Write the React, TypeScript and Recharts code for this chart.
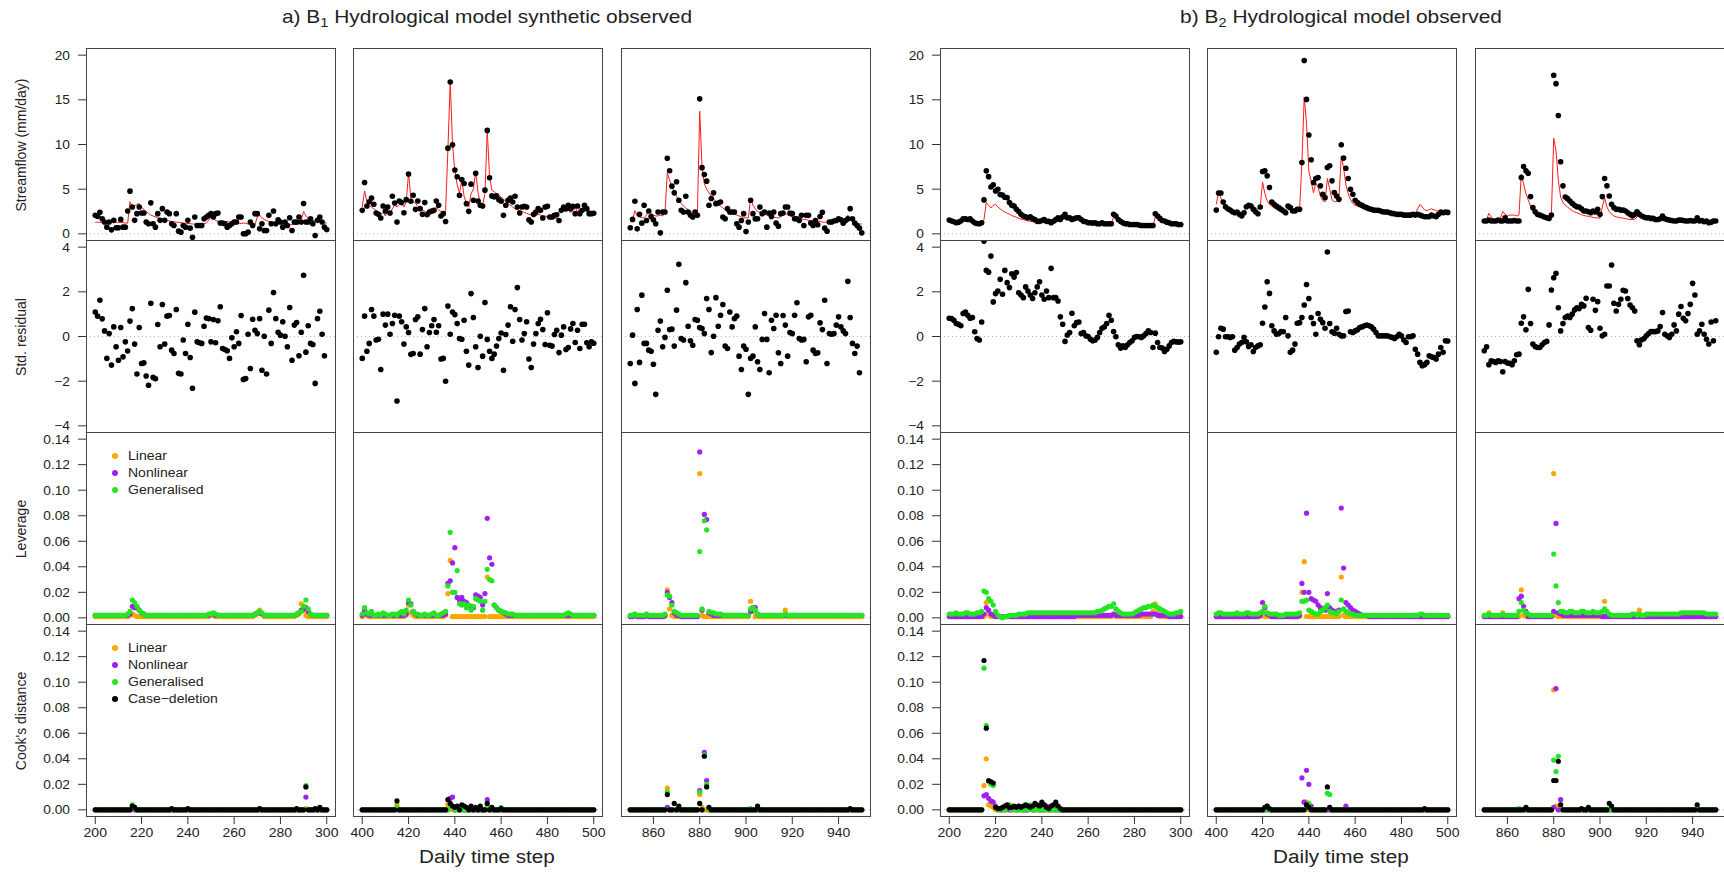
import React from "react";
import {
  ComposedChart,
  Scatter,
  Line,
  XAxis,
  YAxis,
  ReferenceLine,
  Legend,
} from "recharts";

// ---------- data ----------
const startDays = [200, 400, 850];
const xTickLabels = [
  [200, 220, 240, 260, 280, 300],
  [400, 420, 440, 460, 480, 500],
  [860, 880, 900, 920, 940],
];
const flowTicks = [0, 5, 10, 15, 20];
const residTicks = [-4, -2, 0, 2, 4];
const infTicks = [0, 0.02, 0.04, 0.06, 0.08, 0.1, 0.12, 0.14];

// a) B1 synthetic, streamflow (mm/day)
const obsA1 = [
  2.07, 1.96, 2.41, 1.69, 1.32, 0.75, 1.32, 0.45, 1.51, 0.68,
  0.68, 1.62, 0.75, 0.75, 2.56, 4.78, 3.01, 1.51, 2.26, 3.01,
  2.34, 2.34, 1.32, 1.13, 3.47, 1.13, 0.75, 2.26, 1.51, 2.82,
  1.51, 2.45, 2.26, 1.13, 0.94, 2.26, 0.3, 0.19, 0.94, 0.75,
  1.51, 0.64, -0.38, 1.88, 0.94, 0.94, 0.94, 1.69, 1.88, 2.07,
  2.26, 1.88, 2.26, 2.34, 1.21, 1.21, 1.13, 0.75, 0.94, 1.13,
  1.32, 1.32, 1.88, 1.88, 0.0, 0.0, 0.19, 1.32, 0.94, 2.26,
  2.26, 0.56, 1.13, 0.38, 0.38, 2.07, 1.13, 2.56, 1.13, 1.58,
  1.32, 0.75, 1.32, 0.94, 1.81, 0.38, 1.32, 1.32, 1.88, 1.32,
  3.39, 1.32, 1.32, 1.69, 1.13, -0.19, 1.51, 1.88, 1.32, 0.75,
  0.49,
];
const simA1 = [
  1.3, 1.3, 1.3, 1.25, 1.3, 1.3, 1.3, 1.3, 1.25, 1.3,
  1.3, 1.3, 1.25, 1.2, 1.2, 3.6, 3.0, 3.1, 3.3, 3.4,
  3.0, 2.7, 2.5, 2.3, 2.1, 2.0, 1.9, 1.8, 1.7, 1.6,
  1.55, 1.5, 1.45, 1.4, 1.35, 1.3, 1.3, 1.25, 1.2, 1.2,
  1.15, 1.15, 1.1, 1.1, 1.1, 1.1, 1.1, 1.15, 1.2, 1.5,
  2.0, 1.7, 1.5, 1.4, 1.3, 1.35, 1.3, 1.4, 1.3, 1.3,
  1.2, 1.25, 1.2, 1.15, 1.2, 1.2, 1.1, 1.05, 1.0, 1.0,
  1.9, 2.1, 1.8, 1.6, 1.5, 1.4, 1.35, 1.3, 1.25, 1.2,
  1.15, 1.1, 1.05, 1.0, 1.0, 1.05, 1.1, 1.05, 1.1, 1.6,
  2.5, 2.0, 1.7, 1.6, 1.5, 1.45, 1.4, 1.35, 1.3, 1.25,
  1.2,
];
const obsA2 = [
  2.63, 5.75, 3.12, 3.6, 4.02, 3.31, 2.33, 2.18, 1.77, 3.12,
  2.56, 3.01, 2.33, 4.21, 3.46, 1.32, 3.68, 3.5, 2.37, 3.83,
  6.69, 3.65, 4.32, 2.74, 3.68, 2.82, 2.18, 3.5, 2.14, 2.44,
  2.56, 2.63, 3.68, 3.2, 1.99, 2.26, 1.39, 9.59, 16.99, 9.96,
  7.14, 6.39, 4.32, 6.09, 5.64, 3.38, 2.52, 5.56, 3.76, 6.77,
  3.68, 3.2, 3.12, 4.89, 11.58, 6.28, 4.25, 4.14, 4.25, 3.83,
  3.65, 2.07, 3.2, 3.76, 4.02, 3.57, 4.21, 3.01, 2.33, 3.01,
  3.08, 3.01, 1.58, 1.32, 2.18, 2.44, 2.82, 2.63, 1.77, 3.01,
  3.08, 1.88, 1.88, 2.07, 2.14, 1.5, 2.63, 3.01, 2.82, 3.2,
  2.82, 3.08, 2.26, 3.12, 2.26, 2.63, 3.2, 2.82, 2.26, 2.26,
  2.3,
];
const simA2 = [
  3.0, 4.8, 3.6, 3.2, 3.0, 2.8, 2.6, 2.4, 2.2, 2.4,
  2.0, 2.6, 2.3, 2.8, 3.2, 3.0, 3.3, 3.4, 3.0, 3.6,
  6.8, 4.0, 3.6, 3.4, 3.1, 2.9, 2.7, 2.5, 2.4, 2.3,
  2.4, 2.3, 3.0, 2.7, 2.5, 2.4, 2.5, 9.5, 17.0, 10.0,
  7.0, 5.5, 4.6, 6.0, 4.2, 3.4, 3.0, 4.5, 5.0, 7.0,
  4.6, 3.5, 3.2, 4.5, 11.6, 6.4, 4.9, 4.7, 4.5, 4.3,
  4.1, 3.9, 3.6, 3.4, 3.2, 3.0, 2.8, 2.7, 2.6, 2.5,
  2.4, 2.3, 2.2, 2.1, 2.0, 2.0, 2.2, 2.1, 2.0, 2.0,
  1.9, 1.8, 1.8, 1.7, 1.7, 2.4, 2.8, 2.6, 2.5, 2.7,
  2.4, 2.6, 2.9, 2.5, 2.8, 2.6, 2.9, 2.5, 2.7, 2.4,
  2.3,
];
const obsA3 = [
  0.68, 1.62, 3.65, 0.56, 2.18, 1.2, 3.2, 1.5, 2.56, 1.95,
  1.58, 1.13, 2.44, 0.11, 2.44, 2.44, 8.46, 7.07, 5.34, 4.59,
  5.83, 3.76, 2.63, 2.44, 4.21, 2.44, 2.07, 1.88, 2.44, 2.07,
  15.11, 7.41, 6.65, 5.9, 3.2, 3.95, 4.59, 3.38, 3.46, 3.57,
  1.88, 1.69, 2.82, 2.44, 2.44, 2.44, 1.13, 0.75, 1.5, 2.26,
  0.26, 1.32, 3.76, 2.26, 1.69, 1.69, 3.01, 2.26, 2.44, 0.75,
  2.33, 1.95, 2.44, 1.2, 0.86, 2.26, 2.33, 3.01, 3.01, 2.33,
  2.26, 1.69, 1.69, 1.5, 2.07, 0.94, 2.07, 2.07, 1.2, 0.94,
  1.5, 1.02, 1.95, 2.41, 0.64, 0.3, 1.32, 1.32, 1.43, 1.5,
  1.69, 1.58, 1.2, 1.5, 1.69, 2.82, 1.69, 1.2, 0.94, 0.64,
  0.11,
];
const simA3 = [
  1.3, 1.6, 2.6, 2.0, 1.9, 1.8, 1.8, 2.1, 2.8, 2.3,
  2.1, 2.0, 2.0, 2.1, 2.0, 2.4, 6.8, 6.0, 5.3, 4.7,
  4.2, 3.8, 3.4, 3.1, 2.9, 2.7, 2.5, 2.4, 2.3, 2.2,
  13.7, 7.5, 5.6, 5.0, 4.6, 4.2, 3.9, 3.6, 3.4, 3.1,
  2.9, 2.7, 2.5, 2.4, 2.3, 2.2, 2.1, 2.0, 1.9, 1.8,
  1.8, 1.8, 4.0, 3.2, 2.8, 2.5, 2.4, 2.3, 2.2, 2.1,
  2.0, 2.0, 1.9, 1.8, 1.8, 1.9, 2.5, 2.3, 2.1, 2.0,
  1.9, 1.8, 1.8, 1.7, 1.7, 1.6, 1.6, 1.5, 1.5, 1.5,
  1.4, 1.4, 1.4, 1.3, 1.3, 1.3, 1.3, 1.2, 1.3, 1.4,
  1.4, 1.3, 1.5, 1.4, 2.1, 1.6, 1.4, 1.3, 1.2, 1.1,
  1.1,
];

// a) standardised residuals
const resA1 = [
  1.1, 0.91, 1.62, 0.79, 0.25, -0.98, 0.13, -1.28, 0.43, -0.46,
  -1.06, 0.4, -0.91, -0.24, -0.65, 0.69, 1.25, -0.34, -1.68, 0.4,
  -1.21, -1.18, -1.77, -2.18, 1.49, -1.83, -1.89, 0.54, -0.46, 1.43,
  -0.34, 0.91, 0.94, -0.61, -0.76, 1.21, -1.65, -1.68, -0.16, -0.76,
  0.55, -0.94, -2.32, 1.09, -0.24, -0.28, -0.31, 0.46, 0.83, 0.8,
  -0.24, 0.76, -0.28, 0.7, 1.33, -0.54, -0.58, -0.64, -0.98, -0.06,
  -0.46, 0.21, -0.31, 0.94, -1.92, -1.88, 0.1, -1.43, 0.77, 0.28,
  0.13, 0.8, -1.51, 0.01, -1.68, 1.18, -0.31, 1.97, 0.8, 0.19,
  0.06, 0.66, 0.01, -0.46, 1.3, -1.06, 0.51, 0.63, -0.86, 0.19,
  2.74, -0.7, 0.48, -0.31, -0.36, -2.1, 0.8, 1.13, 0.1, -0.86,
];
const resA2 = [
  -0.98, 0.91, -0.66, -0.31, 1.21, 0.91, -0.16, -0.12, -1.48, 1.0,
  0.51, 1.0, 0.1, 0.58, 0.95, -2.89, 0.91, 0.66, -0.34, 0.43,
  0.18, -0.8, -0.76, 0.76, 0.88, -0.79, 0.31, 1.25, -0.46, 0.18,
  0.48, 0.76, 0.19, 0.48, -1.01, -0.98, -2.0, 1.36, 0.1, 1.1,
  0.98, 0.58, -0.09, -0.12, 0.73, -0.66, -1.28, 1.92, 0.85, -0.46,
  -1.39, 0.01, -0.88, 1.52, -0.13, -0.66, -0.98, -0.79, -0.43, -0.09,
  0.16, -1.51, 0.09, 0.51, 1.33, -0.21, 1.21, 2.19, 0.76, -0.16,
  0.13, 0.66, -1.01, -1.39, -0.34, 0.13, 0.58, 0.77, 0.31, -0.36,
  1.06, -0.39, -0.43, 0.09, 0.28, -0.72, 0.06, 0.43, -0.58, -0.49,
  0.34, 0.58, -0.27, 0.28, -0.54, 0.55, 0.55, -0.28, -0.46, -0.24,
  -0.3,
];
const resA3 = [
  -1.21, 0.06, -2.1, 1.21, -1.16, 1.85, -0.31, -0.31, -0.61, -0.66,
  -1.24, -2.59, 0.28, 0.69, -0.46, -0.04, 2.07, 0.31, 0.33, -0.43,
  1.18, 3.23, -0.09, -0.16, 2.41, 0.46, -0.19, -0.39, 0.76, 0.73,
  0.4, 0.36, 0.13, 1.7, 1.21, -0.72, 0.01, 1.74, 0.46, 0.95,
  1.43, -0.43, -0.54, 1.1, 0.43, 0.8, 0.91, -0.88, -1.48, -0.43,
  -0.57, -2.59, -0.98, -0.88, 0.43, -1.13, -1.48, -0.13, 1.03, -0.13,
  -1.62, 0.73, 0.36, 0.95, -0.73, -1.21, 0.94, 0.51, -0.88, 0.18,
  0.13, 0.95, 1.51, -0.09, -0.16, -0.13, -1.13, 0.88, 0.95, -0.61,
  -0.76, -0.73, 0.61, 0.31, 1.62, -1.21, 0.13, 0.1, 0.13, 0.51,
  0.88, 0.43, 0.25, 0.13, 2.47, 0.85, -0.31, -0.76, -0.43, -1.62,
];

// a) leverage, in units of 0.001
const levLinA1 = [
  1, 1, 1, 1, 1, 1, 1, 1, 1, 1,
  1, 1, 1, 1, 1, 2, 3, 2, 1, 1,
  1, 1, 1, 1, 1, 1, 1, 1, 1, 1,
  1, 1, 1, 1, 1, 1, 1, 1, 1, 1,
  1, 1, 1, 1, 1, 1, 1, 1, 1, 1,
  2, 2, 1, 1, 1, 1, 1, 1, 1, 1,
  1, 1, 1, 1, 1, 1, 1, 1, 1, 2,
  3, 6, 3, 1, 1, 1, 1, 1, 1, 1,
  1, 1, 1, 1, 1, 1, 1, 2, 3, 11,
  6, 2, 1, 1, 1, 1, 1, 1, 1, 1,
  1,
];
const levNonA1 = [
  2, 2, 2, 2, 2, 2, 2, 2, 2, 2,
  2, 2, 2, 2, 2, 3, 9, 8, 8, 6,
  4, 3, 2, 2, 2, 2, 2, 2, 2, 2,
  2, 2, 2, 2, 2, 2, 2, 2, 2, 2,
  2, 2, 2, 2, 2, 2, 2, 2, 2, 2,
  3, 3, 2, 2, 2, 2, 2, 2, 2, 2,
  2, 2, 2, 2, 2, 2, 2, 2, 2, 3,
  4, 4, 3, 2, 2, 2, 2, 2, 2, 2,
  2, 2, 2, 2, 2, 2, 2, 3, 4, 6,
  7, 8, 5, 3, 2, 2, 2, 2, 2, 2,
  2,
];
const levGenA1 = [
  2, 2, 2, 2, 2, 2, 2, 2, 2, 2,
  2, 2, 2, 2, 3, 5, 14, 12, 9, 6,
  4, 3, 2, 2, 2, 2, 2, 2, 2, 2,
  2, 2, 2, 2, 2, 2, 2, 2, 2, 2,
  2, 2, 2, 2, 2, 2, 2, 2, 2, 3,
  3, 4, 3, 2, 2, 2, 2, 2, 2, 2,
  2, 2, 2, 2, 2, 2, 2, 2, 2, 3,
  4, 5, 4, 2, 2, 2, 2, 2, 2, 2,
  2, 2, 2, 2, 2, 2, 2, 3, 4, 5,
  9, 14, 7, 3, 2, 2, 2, 2, 2, 2,
  2,
];
const levLinA2 = [
  1, 5, 2, 1, 1, 1, 1, 1, 1, 1,
  1, 1, 1, 1, 1, 1, 1, 1, 1, 2,
  10, 4, 2, 1, 1, 1, 1, 1, 1, 1,
  1, 1, 1, 1, 1, 1, 2, 19, 45, 1,
  1, 1, 1, 1, 1, 1, 1, 1, 1, 1,
  1, 1, 1, 1, 32, 1, 1, 1, 1, 1,
  1, 1, 1, 1, 1, 1, 1, 1, 1, 1,
  1, 1, 1, 1, 1, 1, 1, 1, 1, 1,
  1, 1, 1, 1, 1, 1, 1, 1, 1, 1,
  1, 1, 1, 1, 1, 1, 1, 1, 1, 1,
  1,
];
const levNonA2 = [
  2, 6, 3, 2, 2, 2, 2, 2, 2, 2,
  2, 2, 2, 2, 2, 2, 2, 2, 2, 3,
  12, 11, 5, 3, 2, 2, 2, 2, 2, 2,
  2, 2, 2, 2, 2, 2, 3, 27, 29, 43,
  55, 16, 14, 16, 13, 12, 10, 9, 8, 18,
  17, 16, 10, 19, 78, 47, 42, 10, 8, 6,
  5, 4, 3, 2, 2, 2, 2, 2, 2, 2,
  2, 2, 2, 2, 2, 2, 2, 2, 2, 2,
  2, 2, 2, 2, 2, 2, 2, 2, 2, 2,
  2, 2, 2, 2, 2, 2, 2, 2, 2, 2,
  2,
];
const levGenA2 = [
  3, 8, 4, 3, 5, 2, 2, 3, 2, 4,
  3, 2, 2, 3, 3, 2, 4, 5, 3, 6,
  14, 10, 5, 3, 3, 2, 2, 3, 2, 2,
  3, 4, 2, 2, 3, 4, 5, 25, 67, 20,
  20, 37, 11, 10, 11, 8, 10, 6, 9, 15,
  14, 13, 6, 13, 38, 30, 29, 10, 8, 6,
  5, 4, 4, 3, 3, 3, 2, 2, 2, 2,
  2, 2, 2, 2, 2, 2, 2, 2, 2, 2,
  2, 2, 2, 2, 2, 2, 2, 2, 3, 4,
  3, 2, 2, 2, 2, 2, 2, 2, 2, 2,
  2,
];
const levLinA3 = [
  1, 1, 3, 1, 1, 1, 1, 3, 1, 1,
  1, 1, 1, 1, 1, 1, 22, 7, 2, 1,
  1, 1, 1, 1, 1, 1, 1, 1, 1, 1,
  113, 2, 1, 1, 1, 1, 1, 1, 1, 1,
  1, 1, 1, 1, 1, 1, 1, 1, 1, 1,
  1, 1, 13, 5, 1, 1, 1, 1, 1, 1,
  1, 1, 1, 1, 1, 1, 1, 6, 1, 1,
  1, 1, 1, 1, 1, 1, 1, 1, 1, 1,
  1, 1, 1, 1, 1, 1, 1, 1, 1, 1,
  1, 1, 1, 1, 1, 1, 1, 1, 1, 1,
  1,
];
const levNonA3 = [
  1, 1, 2, 1, 1, 1, 1, 2, 1, 1,
  1, 1, 1, 1, 1, 2, 20, 16, 12, 4,
  2, 2, 1, 1, 1, 1, 1, 1, 1, 1,
  130, 6, 81, 77, 4, 3, 2, 2, 2, 2,
  2, 2, 2, 2, 2, 2, 2, 2, 2, 2,
  2, 2, 5, 8, 8, 3, 2, 2, 2, 2,
  2, 2, 2, 2, 2, 2, 2, 2, 2, 2,
  2, 2, 2, 2, 2, 2, 2, 2, 2, 2,
  2, 2, 2, 2, 2, 2, 2, 2, 2, 2,
  2, 2, 2, 2, 2, 2, 2, 2, 2, 2,
  2,
];
const levGenA3 = [
  2, 2, 3, 2, 2, 2, 2, 3, 2, 2,
  2, 2, 2, 2, 2, 3, 18, 17, 10, 5,
  4, 3, 2, 2, 2, 2, 2, 2, 2, 2,
  52, 7, 76, 69, 5, 4, 4, 3, 3, 3,
  2, 2, 2, 2, 2, 2, 2, 2, 2, 2,
  2, 2, 7, 8, 6, 3, 2, 2, 2, 2,
  2, 2, 2, 2, 2, 2, 2, 3, 2, 2,
  2, 2, 2, 2, 2, 2, 2, 2, 2, 2,
  2, 2, 2, 2, 2, 2, 2, 2, 2, 2,
  2, 2, 2, 2, 2, 2, 2, 2, 2, 2,
  2,
];

// a) Cook's distance, in units of 0.001
const cookLinA1 = [
  0, 0, 0, 0, 0, 0, 0, 0, 0, 0,
  0, 0, 0, 0, 0, 0, 1, 0, 0, 0,
  0, 0, 0, 0, 0, 0, 0, 0, 0, 0,
  0, 0, 0, 0, 0, 0, 0, 0, 0, 0,
  0, 0, 0, 0, 0, 0, 0, 0, 0, 0,
  0, 0, 0, 0, 0, 0, 0, 0, 0, 0,
  0, 0, 0, 0, 0, 0, 0, 0, 0, 0,
  0, 0, 0, 0, 0, 0, 0, 0, 0, 0,
  0, 0, 0, 0, 0, 0, 0, 0, 0, 0,
  0, 1, 0, 0, 0, 0, 0, 0, 0, 0,
  0,
];
const cookNonA1 = [
  0, 0, 0, 0, 0, 0, 0, 0, 0, 0,
  0, 0, 0, 0, 0, 0, 2, 0, 0, 0,
  0, 0, 0, 0, 0, 0, 0, 0, 0, 0,
  0, 0, 0, 0, 0, 0, 0, 0, 0, 0,
  0, 0, 0, 0, 0, 0, 0, 0, 0, 0,
  0, 0, 0, 0, 0, 0, 0, 0, 0, 0,
  0, 0, 0, 0, 0, 0, 0, 0, 0, 0,
  0, 0, 0, 0, 0, 0, 0, 0, 0, 0,
  0, 0, 0, 0, 0, 0, 0, 0, 0, 0,
  0, 10, 0, 0, 0, 0, 0, 0, 0, 0,
  0,
];
const cookGenA1 = [
  0, 0, 0, 0, 0, 0, 0, 0, 0, 0,
  0, 0, 0, 0, 0, 0, 4, 2, 0, 0,
  0, 0, 0, 0, 0, 0, 0, 0, 0, 0,
  0, 0, 0, 0, 0, 0, 0, 0, 0, 0,
  0, 0, 0, 0, 0, 0, 0, 0, 0, 0,
  0, 0, 0, 0, 0, 0, 0, 0, 0, 0,
  0, 0, 0, 0, 0, 0, 0, 0, 0, 0,
  0, 1, 0, 0, 0, 0, 0, 0, 0, 0,
  0, 0, 0, 0, 0, 0, 0, 0, 0, 0,
  0, 19, 0, 0, 0, 0, 0, 0, 0, 0,
  0,
];
const cookCdA1 = [
  0, 0, 0, 0, 0, 0, 0, 0, 0, 0,
  0, 0, 0, 0, 0, 0, 3, 2, 0, 0,
  0, 0, 0, 0, 0, 0, 0, 0, 0, 0,
  0, 0, 0, 1, 0, 0, 0, 0, 0, 0,
  1, 0, 0, 0, 0, 0, 0, 0, 0, 0,
  0, 0, 0, 0, 0, 0, 0, 0, 0, 0,
  0, 0, 0, 0, 0, 0, 0, 0, 0, 0,
  0, 1, 0, 0, 0, 0, 0, 0, 0, 0,
  0, 0, 0, 0, 0, 0, 0, 1, 0, 0,
  0, 18, 0, 0, 0, 1, 0, 2, 0, 0,
  0,
];
const cookLinA2 = [
  0, 0, 0, 0, 0, 0, 0, 0, 0, 0,
  0, 0, 0, 0, 0, 4, 0, 0, 0, 0,
  0, 0, 0, 0, 0, 0, 0, 0, 0, 0,
  0, 0, 0, 0, 0, 0, 0, 4, 2, 0,
  0, 0, 0, 0, 0, 0, 0, 0, 0, 0,
  0, 0, 0, 0, 0, 0, 0, 0, 0, 0,
  0, 0, 0, 0, 0, 0, 0, 0, 0, 0,
  0, 0, 0, 0, 0, 0, 0, 0, 0, 0,
  0, 0, 0, 0, 0, 0, 0, 0, 0, 0,
  0, 0, 0, 0, 0, 0, 0, 0, 0, 0,
  0,
];
const cookNonA2 = [
  0, 0, 0, 0, 0, 0, 0, 0, 0, 0,
  0, 0, 0, 0, 0, 0, 0, 0, 0, 0,
  0, 0, 0, 0, 0, 0, 0, 0, 0, 0,
  0, 0, 0, 0, 0, 0, 0, 0, 9, 10,
  0, 2, 0, 2, 0, 0, 0, 0, 0, 0,
  0, 0, 0, 0, 8, 0, 0, 0, 0, 0,
  0, 0, 0, 0, 0, 0, 0, 0, 0, 0,
  0, 0, 0, 0, 0, 0, 0, 0, 0, 0,
  0, 0, 0, 0, 0, 0, 0, 0, 0, 0,
  0, 0, 0, 0, 0, 0, 0, 0, 0, 0,
  0,
];
const cookGenA2 = [
  0, 0, 0, 0, 0, 0, 0, 0, 0, 0,
  0, 0, 0, 0, 0, 2, 0, 0, 0, 0,
  0, 0, 0, 0, 0, 0, 0, 0, 0, 0,
  0, 0, 0, 0, 0, 0, 0, 0, 4, 3,
  0, 2, 0, 0, 0, 0, 0, 0, 0, 0,
  0, 0, 0, 0, 3, 0, 0, 0, 0, 0,
  2, 0, 0, 0, 0, 0, 0, 0, 0, 0,
  0, 0, 0, 0, 0, 0, 0, 0, 0, 0,
  0, 0, 0, 0, 0, 0, 0, 0, 0, 0,
  0, 0, 0, 0, 0, 0, 0, 0, 0, 0,
  0,
];
const cookCdA2 = [
  0, 0, 0, 0, 0, 0, 0, 0, 0, 0,
  0, 0, 0, 0, 0, 7, 0, 0, 0, 0,
  0, 0, 0, 0, 0, 0, 0, 0, 0, 0,
  0, 0, 0, 0, 0, 0, 0, 8, 5, 3,
  2, 3, 0, 4, 3, 2, 0, 3, 0, 2,
  0, 3, 0, 0, 5, 0, 2, 0, 0, 0,
  1, 0, 0, 0, 0, 0, 0, 0, 0, 0,
  0, 0, 0, 0, 0, 0, 0, 0, 0, 0,
  0, 0, 0, 0, 0, 0, 0, 0, 0, 0,
  0, 0, 0, 0, 0, 0, 0, 0, 0, 0,
  0,
];
const cookLinA3 = [
  0, 0, 0, 0, 0, 0, 0, 0, 0, 0,
  0, 0, 0, 0, 0, 0, 17, 0, 0, 0,
  0, 0, 0, 0, 0, 0, 0, 0, 0, 0,
  12, 2, 0, 0, 0, 0, 0, 0, 0, 0,
  0, 0, 0, 0, 0, 0, 0, 0, 0, 0,
  0, 0, 0, 0, 0, 0, 0, 0, 0, 0,
  0, 0, 0, 0, 0, 0, 0, 0, 0, 0,
  0, 0, 0, 0, 0, 0, 0, 0, 0, 0,
  0, 0, 0, 0, 0, 0, 0, 0, 0, 0,
  0, 0, 0, 0, 0, 0, 0, 0, 0, 0,
  0,
];
const cookNonA3 = [
  0, 0, 0, 0, 0, 0, 0, 0, 0, 0,
  0, 0, 0, 0, 0, 0, 2, 0, 0, 0,
  0, 0, 0, 0, 0, 0, 0, 0, 0, 0,
  15, 0, 45, 23, 0, 0, 0, 0, 0, 0,
  0, 0, 0, 0, 0, 0, 0, 0, 0, 0,
  0, 0, 0, 0, 0, 0, 0, 0, 0, 0,
  0, 0, 0, 0, 0, 0, 0, 0, 0, 0,
  0, 0, 0, 0, 0, 0, 0, 0, 0, 0,
  0, 0, 0, 0, 0, 0, 0, 0, 0, 0,
  0, 0, 0, 0, 0, 0, 0, 0, 0, 0,
  0,
];
const cookGenA3 = [
  0, 0, 0, 0, 0, 0, 0, 0, 0, 0,
  0, 0, 0, 0, 0, 0, 14, 0, 0, 0,
  0, 0, 0, 0, 0, 0, 0, 0, 0, 0,
  14, 0, 43, 20, 0, 0, 0, 0, 0, 0,
  0, 0, 0, 0, 0, 0, 0, 0, 0, 0,
  0, 0, 1, 0, 0, 0, 0, 0, 0, 0,
  0, 0, 0, 0, 0, 0, 0, 0, 0, 0,
  0, 0, 0, 0, 0, 0, 0, 0, 0, 0,
  0, 0, 0, 0, 0, 0, 0, 0, 0, 0,
  0, 0, 0, 0, 0, 0, 0, 0, 0, 0,
  0,
];
const cookCdA3 = [
  0, 0, 0, 0, 0, 0, 0, 0, 0, 0,
  0, 0, 0, 0, 0, 0, 12, 0, 0, 5,
  0, 3, 0, 0, 0, 0, 0, 0, 0, 0,
  5, 0, 42, 18, 2, 0, 0, 0, 0, 0,
  0, 0, 0, 0, 0, 0, 0, 0, 0, 0,
  0, 0, 0, 0, 0, 3, 0, 0, 0, 0,
  0, 0, 0, 0, 0, 0, 0, 0, 0, 0,
  0, 0, 0, 0, 0, 0, 0, 0, 0, 0,
  0, 0, 0, 0, 0, 0, 0, 0, 0, 0,
  0, 0, 0, 0, 0, 1, 0, 0, 0, 0,
  0,
];

// b) B2 observed, streamflow (mm/day)
const obsB1 = [
  1.54, 1.43, 1.35, 1.24, 1.31, 1.43, 1.69, 1.69, 1.61, 1.69,
  1.43, 1.24, 1.16, 1.13, 1.24, 3.8, 7.05, 6.4, 5.25, 5.5,
  4.8, 5.0, 4.4, 4.35, 4.1, 4.05, 3.5, 3.2, 3.1, 2.75,
  2.5, 2.2, 2.0, 1.9, 1.8, 1.9, 1.7, 1.6, 1.4, 1.4,
  1.5, 1.6, 1.4, 1.4, 1.24, 1.4, 1.6, 1.8, 1.6, 1.9,
  2.2, 1.8, 1.8, 1.6, 1.7, 1.8, 1.8, 1.6, 1.4, 1.35,
  1.24, 1.24, 1.2, 1.24, 1.13, 1.13, 1.24, 1.13, 1.13, 1.13,
  1.13, 2.2, 2.0, 1.6, 1.4, 1.24, 1.13, 1.13, 1.05, 1.05,
  1.05, 1.05, 0.98, 0.94, 0.94, 0.94, 0.94, 0.94, 0.94, 2.25,
  2.0, 1.73, 1.5, 1.43, 1.31, 1.24, 1.13, 1.13, 1.13, 1.05,
  1.05,
];
const simB1 = [
  1.3, 1.3, 1.25, 1.2, 1.25, 1.3, 1.4, 1.4, 1.4, 1.4,
  1.3, 1.25, 1.2, 1.2, 1.2, 1.6, 3.5, 3.2, 2.9, 3.2,
  3.3, 3.0, 2.8, 2.6, 2.45, 2.3, 2.2, 2.05, 1.95, 1.85,
  1.75, 1.65, 1.6, 1.5, 1.45, 1.4, 1.35, 1.3, 1.3, 1.25,
  1.25, 1.3, 1.3, 1.25, 1.2, 1.25, 1.3, 1.4, 1.4, 1.6,
  2.0, 1.7, 1.6, 1.5, 1.55, 1.6, 1.6, 1.5, 1.4, 1.3,
  1.25, 1.2, 1.2, 1.15, 1.1, 1.1, 1.1, 1.05, 1.05, 1.05,
  1.1, 1.9, 1.7, 1.5, 1.35, 1.25, 1.15, 1.1, 1.05, 1.0,
  1.0, 0.98, 0.95, 0.92, 0.9, 0.9, 0.88, 0.88, 0.88, 1.9,
  1.75, 1.6, 1.45, 1.35, 1.3, 1.2, 1.15, 1.1, 1.1, 1.05,
  1.05,
];
const obsB2 = [
  2.66, 4.58, 4.58, 3.56, 3.04, 2.81, 2.66, 2.48, 2.36, 2.44,
  2.18, 1.99, 2.36, 3.04, 3.19, 3.11, 2.74, 2.48, 2.25, 3.0,
  6.98, 7.05, 6.49, 5.18, 3.56, 3.3, 3.11, 2.93, 2.74, 2.55,
  2.36, 3.11, 2.93, 2.55, 2.55, 2.74, 2.74, 7.99, 19.4, 15.05,
  11.07, 8.29, 5.74, 6.19, 6.3, 5.37, 4.43, 4.05, 7.43, 7.62,
  5.93, 4.62, 4.24, 3.86, 9.98, 8.48, 7.35, 6.19, 4.99, 4.43,
  3.75, 3.49, 3.3, 3.19, 3.04, 2.93, 2.81, 2.74, 2.66, 2.63,
  2.63, 2.55, 2.48, 2.44, 2.44, 2.36, 2.29, 2.25, 2.18, 2.18,
  2.18, 2.1, 2.1, 2.1, 2.1, 2.18, 2.1, 2.18, 2.1, 1.99,
  1.91, 1.91, 1.91, 2.1, 1.99, 1.91, 2.18, 2.44, 2.36, 2.44,
  2.4,
];
const simB2 = [
  3.3, 4.6, 4.0, 3.4, 3.1, 2.8, 2.7, 2.55, 2.45, 2.35,
  2.25, 2.2, 2.5, 3.0, 3.3, 3.4, 3.1, 2.9, 2.8, 3.0,
  5.8, 4.5, 3.7, 3.3, 3.1, 2.9, 2.75, 2.6, 2.5, 2.4,
  2.3, 3.1, 2.8, 2.7, 2.7, 2.7, 2.7, 8.0, 15.3, 12.3,
  7.0, 5.9, 4.6, 5.7, 5.2, 4.2, 3.7, 3.6, 6.2, 5.0,
  3.8, 3.6, 3.6, 4.0, 8.7, 7.4, 5.5, 4.5, 3.8, 3.4,
  3.2, 3.1, 3.0, 2.9, 2.8, 2.7, 2.6, 2.55, 2.5, 2.45,
  2.4, 2.35, 2.3, 2.3, 2.25, 2.2, 2.2, 2.15, 2.15, 2.1,
  2.1, 2.1, 2.1, 2.1, 2.1, 2.1, 2.3, 2.8, 3.3, 3.0,
  2.7, 2.6, 2.7, 2.8, 2.7, 2.6, 2.5, 2.45, 2.6, 2.5,
  2.5,
];
const obsB3 = [
  1.43, 1.43, 1.54, 1.43, 1.43, 1.43, 1.54, 1.43, 1.43, 1.8,
  1.43, 1.43, 1.43, 1.5, 1.43, 1.43, 6.3, 7.54, 7.05, 6.79,
  4.17, 2.93, 2.48, 2.18, 2.1, 1.99, 1.88, 1.8, 1.73, 2.1,
  17.75, 16.81, 13.25, 8.07, 5.37, 4.13, 3.94, 3.68, 3.41, 3.19,
  3.04, 3.0, 2.81, 2.55, 2.55, 2.48, 2.36, 2.55, 2.44, 2.74,
  2.18, 4.17, 6.19, 5.37, 4.24, 3.3, 2.93, 2.74, 2.74, 2.66,
  2.66, 2.55, 2.36, 2.18, 1.99, 2.18, 2.48, 2.18, 1.99, 1.88,
  1.8, 1.8, 1.73, 1.73, 1.61, 1.61, 1.69, 1.99, 1.69, 1.61,
  1.54, 1.5, 1.43, 1.43, 1.54, 1.54, 1.5, 1.43, 1.43, 1.5,
  1.43, 1.43, 1.8, 1.43, 1.5, 1.35, 1.43, 1.24, 1.31, 1.43,
  1.43,
];
const simB3 = [
  1.43, 1.6, 2.3, 1.9, 1.6, 1.5, 1.45, 1.8, 2.5, 2.2,
  2.0, 2.1, 2.1, 2.1, 2.0, 2.1, 6.7, 5.6, 4.5, 3.8,
  3.1, 2.7, 2.4, 2.2, 2.1, 2.05, 2.0, 2.0, 2.0, 2.1,
  10.7, 9.3, 6.0, 4.1, 3.5, 3.2, 3.0, 2.8, 2.6, 2.45,
  2.35, 2.25, 2.15, 2.05, 2.0, 1.95, 1.9, 1.85, 1.8, 1.8,
  1.75, 3.0, 4.0, 3.0, 2.5, 2.2, 2.0, 1.9, 1.85, 1.8,
  1.75, 1.7, 1.65, 1.6, 1.6, 1.6, 1.9, 2.55, 2.2, 1.9,
  1.8, 1.75, 1.7, 1.65, 1.6, 1.6, 1.55, 1.5, 1.5, 1.5,
  1.45, 1.45, 1.4, 1.4, 1.4, 1.35, 1.35, 1.3, 1.3, 1.3,
  1.3, 1.3, 1.3, 1.35, 1.3, 1.3, 1.25, 1.3, 1.25, 1.25,
  1.2,
];

// b) standardised residuals
const resB1 = [
  0.82, 0.8, 0.73, 0.58, 0.55, 0.48, 1.03, 1.1, 0.95, 0.82,
  0.85, 0.21, -0.09, -0.16, 0.65, 4.27, 2.96, 2.88, 3.6, 1.55,
  1.92, 2.04, 2.56, 1.89, 2.96, 2.41, 2.19, 2.81, 2.66, 2.86,
  1.96, 1.86, 1.74, 2.22, 2.04, 1.86, 1.7, 1.96, 2.22, 2.45,
  1.86, 1.67, 2.04, 1.74, 3.05, 1.74, 1.74, 1.59, 0.88, 0.55,
  -0.22, 0.07, 0.18, 1.04, 0.48, 0.62, 0.65, 0.13, 0.18, 0.03,
  0.0, -0.12, -0.19, -0.16, -0.04, 0.18, 0.37, 0.43, 0.58, 0.95,
  0.73, 0.22, -0.01, -0.37, -0.52, -0.42, -0.49, -0.37, -0.27, -0.19,
  -0.04, 0.0, -0.01, -0.04, 0.03, 0.13, 0.25, 0.18, -0.49, 0.15,
  -0.27, -0.49, -0.52, -0.67, -0.57, -0.42, -0.27, -0.22, -0.24, -0.25,
  -0.24,
];
const resB2 = [
  -0.71, -0.01, 0.37, 0.33, -0.01, -0.01, -0.04, -0.01, -0.61, -0.49,
  -0.34, -0.27, -0.04, -0.24, -0.45, -0.37, -0.67, -0.49, -0.42, -0.37,
  0.59, 1.32, 2.45, 1.93, 0.48, 0.25, 0.1, 0.13, 0.22, 0.21,
  0.85, 0.03, -0.71, -0.61, -0.34, 0.59, 0.62, 0.85, 1.41, 2.33,
  1.7, 0.85, 0.58, 0.1, 1.03, 0.77, 0.62, 0.37, 3.78, 0.58,
  0.21, 0.15, 0.37, 0.1, 0.03, 0.03, 1.12, 1.14, 0.21, 0.18,
  0.25, 0.3, 0.4, 0.43, 0.48, 0.51, 0.48, 0.43, 0.33, 0.18,
  0.03, 0.03, 0.03, 0.03, 0.03, -0.01, -0.04, -0.09, -0.01, 0.1,
  0.03, -0.16, -0.27, -0.01, -0.01, 0.03, -0.57, -0.79, -1.16, -1.31,
  -1.26, -1.16, -0.86, -0.91, -0.94, -1.01, -0.79, -0.49, -0.71, -0.19,
  -0.2,
];
const resB3 = [
  -0.64, -0.46, -1.26, -1.09, -1.12, -1.16, -1.09, -1.12, -1.58, -1.12,
  -1.19, -1.2, -1.26, -1.09, -0.82, -0.79, 0.59, 0.88, 0.3, 2.11,
  0.58, -0.34, -0.45, -0.49, -0.49, -0.37, -0.27, -0.22, 0.52, 2.08,
  2.63, 2.83, 1.29, 0.25, 0.58, 0.85, 0.92, 0.85, 1.0, 1.19,
  1.29, 1.25, 1.44, 1.37, 1.71, 0.4, 0.28, 1.67, 1.17, 1.56,
  0.37, 0.03, 0.1, 2.26, 2.26, 3.2, 1.49, 1.14, 1.44, 1.67,
  2.07, 2.04, 1.7, 1.41, 1.29, 1.14, -0.19, -0.37, -0.15, -0.09,
  0.03, 0.13, 0.22, 0.22, 0.22, 0.25, 0.45, 1.07, 0.1, 0.03,
  -0.04, 0.1, 0.52, 0.25, 1.0, 1.34, 0.82, 0.7, 1.03, 1.44,
  2.38, 1.86, 0.1, 0.25, 0.55, 0.1, -0.12, -0.34, 0.65, -0.19,
  0.7,
];

// b) leverage, in units of 0.001
const levLinB1 = [
  1, 1, 1, 1, 1, 1, 1, 1, 1, 1,
  1, 1, 1, 1, 1, 1, 12, 3, 1, 1,
  1, 1, 1, 1, 1, 1, 1, 1, 1, 1,
  1, 1, 1, 1, 1, 1, 1, 1, 1, 1,
  1, 1, 1, 1, 1, 1, 1, 1, 1, 1,
  1, 1, 1, 1, 1, 1, 1, 1, 1, 1,
  1, 1, 1, 1, 1, 1, 1, 1, 1, 1,
  1, 2, 1, 1, 1, 1, 1, 1, 1, 1,
  1, 1, 1, 1, 1, 1, 1, 1, 5, 11,
  4, 1, 1, 1, 1, 1, 1, 1, 1, 1,
  1,
];
const levNonB1 = [
  1, 1, 1, 1, 1, 1, 1, 1, 1, 1,
  1, 1, 1, 1, 1, 3, 8, 6, 3, 2,
  1, 1, 1, 1, 1, 1, 1, 1, 1, 1,
  1, 1, 1, 1, 1, 1, 1, 1, 1, 1,
  1, 1, 1, 1, 1, 1, 1, 1, 1, 1,
  1, 1, 1, 1, 1, 2, 2, 2, 2, 2,
  2, 2, 2, 2, 2, 2, 2, 2, 2, 2,
  2, 3, 2, 2, 2, 2, 2, 2, 2, 2,
  2, 2, 2, 3, 3, 3, 3, 3, 3, 3,
  2, 2, 2, 2, 2, 1, 1, 1, 1, 1,
  1,
];
const levGenB1 = [
  3, 3, 3, 4, 3, 3, 3, 4, 4, 3,
  3, 3, 4, 4, 5, 21, 20, 15, 13, 10,
  5, 2, 1, 0, 1, 1, 2, 2, 2, 2,
  3, 3, 3, 3, 4, 4, 4, 4, 4, 4,
  4, 4, 4, 4, 4, 4, 4, 4, 4, 4,
  4, 4, 4, 4, 4, 4, 4, 4, 4, 4,
  4, 4, 4, 4, 5, 5, 6, 7, 8, 9,
  9, 11, 7, 5, 4, 3, 3, 3, 3, 3,
  4, 5, 6, 7, 8, 8, 9, 9, 10, 9,
  8, 7, 6, 5, 4, 3, 3, 3, 4, 4,
  5,
];
const levLinB2 = [
  1, 1, 1, 1, 1, 1, 1, 1, 1, 1,
  1, 1, 1, 1, 1, 1, 1, 1, 1, 1,
  2, 1, 1, 1, 1, 1, 1, 1, 1, 1,
  1, 1, 1, 1, 1, 1, 1, 20, 44, 1,
  1, 1, 1, 1, 1, 1, 1, 1, 1, 1,
  1, 1, 1, 1, 32, 2, 1, 1, 1, 1,
  1, 1, 1, 1, 1, 1, 1, 1, 1, 1,
  1, 1, 1, 1, 1, 1, 1, 1, 1, 1,
  1, 1, 1, 1, 1, 1, 1, 1, 1, 1,
  1, 1, 1, 1, 1, 1, 1, 1, 1, 1,
  1,
];
const levNonB2 = [
  1, 1, 1, 1, 1, 1, 1, 1, 1, 1,
  1, 1, 1, 1, 1, 1, 1, 1, 1, 2,
  12, 8, 3, 2, 1, 1, 1, 1, 1, 1,
  1, 1, 1, 1, 1, 1, 2, 27, 20, 82,
  20, 15, 14, 13, 10, 8, 7, 6, 19, 8,
  6, 5, 5, 6, 86, 39, 12, 10, 8, 6,
  5, 4, 3, 2, 2, 2, 1, 1, 1, 1,
  1, 1, 1, 1, 1, 1, 1, 1, 1, 1,
  1, 1, 1, 1, 1, 1, 1, 1, 1, 1,
  1, 1, 1, 1, 1, 1, 1, 1, 1, 1,
  1,
];
const levGenB2 = [
  3, 4, 4, 3, 3, 3, 3, 3, 3, 4,
  3, 3, 3, 4, 4, 3, 3, 3, 3, 4,
  5, 9, 4, 3, 3, 3, 3, 2, 2, 2,
  3, 3, 3, 3, 3, 3, 4, 13, 13, 14,
  6, 5, 4, 3, 3, 5, 6, 8, 10, 5,
  4, 4, 3, 5, 14, 7, 5, 4, 3, 3,
  2, 2, 2, 2, 2, 2, 2, 2, 2, 2,
  2, 2, 2, 2, 2, 2, 2, 2, 2, 2,
  2, 2, 2, 2, 2, 2, 2, 2, 3, 3,
  2, 2, 2, 2, 2, 2, 2, 2, 2, 2,
  2,
];
const levLinB3 = [
  1, 1, 4, 1, 1, 1, 1, 1, 4, 1,
  1, 1, 1, 1, 1, 1, 22, 2, 1, 1,
  1, 1, 1, 1, 1, 1, 1, 1, 1, 1,
  113, 2, 1, 1, 1, 1, 1, 1, 1, 1,
  1, 1, 1, 1, 1, 1, 1, 1, 1, 1,
  1, 1, 13, 2, 1, 1, 1, 1, 1, 1,
  1, 1, 1, 1, 1, 1, 1, 6, 1, 1,
  1, 1, 1, 1, 1, 1, 1, 1, 1, 1,
  1, 1, 1, 1, 1, 1, 1, 1, 1, 1,
  1, 1, 1, 1, 1, 1, 1, 1, 1, 1,
  1,
];
const levNonB3 = [
  1, 1, 1, 1, 1, 1, 1, 1, 1, 1,
  1, 1, 1, 1, 1, 15, 17, 9, 5, 1,
  1, 1, 1, 1, 1, 1, 1, 1, 1, 1,
  5, 74, 4, 3, 2, 2, 2, 2, 2, 2,
  2, 2, 2, 2, 2, 2, 2, 2, 2, 2,
  2, 1, 1, 1, 1, 1, 1, 1, 1, 1,
  1, 1, 1, 1, 1, 1, 1, 1, 1, 1,
  1, 1, 1, 1, 1, 1, 1, 1, 1, 1,
  1, 1, 1, 1, 1, 1, 1, 1, 1, 1,
  1, 1, 1, 1, 1, 1, 1, 1, 1, 1,
  1,
];
const levGenB3 = [
  2, 2, 3, 2, 2, 2, 2, 2, 3, 2,
  2, 2, 2, 2, 2, 5, 12, 6, 4, 3,
  2, 2, 2, 2, 2, 2, 2, 2, 2, 2,
  50, 25, 12, 5, 5, 4, 4, 5, 5, 4,
  4, 4, 5, 5, 4, 4, 4, 5, 4, 4,
  4, 5, 7, 5, 3, 2, 2, 2, 2, 2,
  2, 2, 2, 2, 3, 3, 2, 3, 2, 2,
  3, 3, 3, 3, 3, 3, 3, 3, 3, 3,
  3, 3, 3, 3, 3, 4, 4, 4, 4, 4,
  4, 4, 4, 4, 4, 4, 3, 3, 3, 3,
  3,
];

// b) Cook's distance, in units of 0.001
const cookLinB1 = [
  0, 0, 0, 0, 0, 0, 0, 0, 0, 0,
  0, 0, 0, 0, 0, 19, 40, 4, 3, 2,
  0, 0, 0, 0, 1, 0, 2, 0, 0, 0,
  1, 0, 0, 0, 0, 2, 0, 0, 0, 0,
  0, 0, 0, 0, 0, 0, 0, 0, 0, 0,
  0, 0, 0, 0, 0, 0, 0, 0, 0, 0,
  0, 0, 0, 0, 0, 0, 0, 0, 0, 0,
  0, 0, 0, 0, 0, 0, 0, 0, 0, 0,
  0, 0, 0, 0, 0, 0, 0, 0, 0, 0,
  0, 0, 0, 0, 0, 0, 0, 0, 0, 0,
  0,
];
const cookNonB1 = [
  0, 0, 0, 0, 0, 0, 0, 0, 0, 0,
  0, 0, 0, 0, 0, 11, 12, 9, 7, 6,
  3, 1, 0, 0, 0, 2, 0, 0, 2, 0,
  0, 1, 0, 0, 0, 2, 0, 0, 2, 0,
  0, 0, 3, 0, 0, 1, 0, 0, 0, 0,
  0, 0, 0, 0, 0, 0, 0, 0, 0, 0,
  0, 0, 0, 0, 0, 0, 0, 0, 0, 0,
  0, 0, 0, 0, 0, 0, 0, 0, 0, 0,
  0, 0, 0, 0, 0, 0, 0, 0, 0, 0,
  0, 0, 0, 0, 0, 0, 0, 0, 0, 0,
  0,
];
const cookGenB1 = [
  0, 0, 0, 0, 0, 0, 0, 0, 0, 0,
  0, 0, 0, 0, 0, 111, 66, 22, 20, 19,
  2, 0, 0, 1, 0, 3, 4, 0, 2, 0,
  3, 0, 0, 3, 0, 4, 0, 0, 3, 0,
  0, 4, 0, 0, 0, 0, 5, 0, 0, 0,
  0, 0, 0, 0, 0, 0, 0, 0, 0, 0,
  0, 0, 0, 0, 0, 0, 0, 0, 0, 0,
  0, 0, 0, 0, 0, 0, 0, 0, 0, 0,
  0, 0, 0, 0, 0, 0, 0, 0, 0, 0,
  0, 0, 0, 0, 0, 0, 0, 0, 0, 0,
  0,
];
const cookCdB1 = [
  0, 0, 0, 0, 0, 0, 0, 0, 0, 0,
  0, 0, 0, 0, 0, 117, 64, 23, 22, 21,
  2, 1, 1, 2, 3, 4, 2, 2, 3, 2,
  3, 2, 3, 4, 3, 2, 3, 5, 4, 3,
  6, 4, 2, 1, 3, 4, 6, 3, 1, 0,
  0, 0, 0, 0, 0, 0, 0, 0, 0, 0,
  0, 0, 0, 0, 0, 0, 0, 0, 0, 0,
  0, 0, 0, 0, 0, 0, 0, 0, 0, 0,
  0, 0, 0, 0, 0, 0, 0, 0, 0, 0,
  0, 0, 0, 0, 0, 0, 0, 0, 0, 0,
  0,
];
const cookLinB2 = [
  0, 0, 0, 0, 0, 0, 0, 0, 0, 0,
  0, 0, 0, 0, 0, 0, 0, 0, 0, 0,
  0, 0, 2, 0, 0, 0, 0, 0, 0, 0,
  0, 0, 0, 0, 0, 0, 0, 0, 6, 6,
  0, 0, 0, 0, 0, 0, 0, 0, 0, 0,
  0, 0, 0, 0, 0, 0, 0, 0, 0, 0,
  0, 0, 0, 0, 0, 0, 0, 0, 0, 0,
  0, 0, 0, 0, 0, 0, 0, 0, 0, 0,
  0, 0, 0, 0, 0, 0, 0, 0, 0, 0,
  0, 0, 0, 0, 0, 0, 0, 0, 0, 0,
  0,
];
const cookNonB2 = [
  0, 0, 0, 0, 0, 0, 0, 0, 0, 0,
  0, 0, 0, 0, 0, 0, 0, 0, 0, 0,
  0, 0, 0, 0, 0, 0, 0, 0, 0, 0,
  0, 0, 0, 0, 0, 0, 0, 25, 6, 31,
  20, 3, 0, 0, 0, 0, 0, 0, 0, 0,
  0, 0, 0, 0, 0, 0, 3, 0, 0, 0,
  0, 0, 0, 0, 0, 0, 0, 0, 0, 0,
  0, 0, 0, 0, 0, 0, 0, 0, 0, 0,
  0, 0, 0, 0, 0, 0, 0, 0, 0, 0,
  0, 0, 0, 0, 0, 0, 0, 0, 0, 0,
  0,
];
const cookGenB2 = [
  0, 0, 0, 0, 0, 0, 0, 0, 0, 0,
  0, 0, 0, 0, 0, 0, 0, 0, 0, 0,
  0, 0, 3, 0, 0, 0, 0, 0, 0, 0,
  0, 0, 0, 0, 0, 0, 0, 0, 0, 3,
  5, 0, 0, 0, 0, 0, 0, 0, 13, 12,
  0, 0, 0, 0, 0, 0, 0, 0, 0, 0,
  0, 0, 0, 0, 0, 0, 0, 0, 0, 0,
  0, 0, 0, 0, 0, 0, 0, 0, 0, 0,
  0, 0, 0, 0, 0, 0, 0, 0, 0, 0,
  0, 0, 0, 0, 0, 0, 0, 0, 0, 0,
  0,
];
const cookCdB2 = [
  0, 0, 0, 0, 0, 0, 0, 0, 0, 0,
  0, 0, 0, 0, 0, 0, 0, 0, 0, 0,
  0, 2, 3, 1, 0, 0, 0, 0, 0, 0,
  0, 0, 0, 0, 0, 0, 0, 0, 0, 4,
  2, 0, 0, 0, 0, 0, 0, 0, 18, 2,
  0, 0, 0, 0, 0, 0, 0, 0, 0, 0,
  0, 0, 0, 0, 0, 0, 0, 0, 0, 0,
  0, 0, 0, 0, 0, 0, 0, 0, 0, 0,
  0, 0, 0, 0, 0, 0, 0, 0, 0, 0,
  1, 0, 0, 0, 0, 0, 0, 0, 0, 0,
  0,
];
const cookLinB3 = [
  0, 0, 0, 0, 0, 0, 0, 0, 0, 0,
  0, 0, 0, 0, 0, 0, 0, 0, 0, 0,
  0, 0, 0, 0, 0, 0, 0, 0, 0, 0,
  94, 3, 0, 0, 0, 0, 0, 0, 0, 0,
  0, 0, 0, 0, 0, 0, 0, 0, 0, 0,
  0, 0, 0, 0, 0, 0, 0, 0, 0, 0,
  0, 0, 0, 0, 0, 0, 0, 0, 0, 0,
  0, 0, 0, 0, 0, 0, 0, 0, 0, 0,
  0, 0, 0, 0, 0, 0, 0, 0, 0, 0,
  0, 0, 0, 0, 0, 0, 0, 0, 0, 0,
  0,
];
const cookNonB3 = [
  0, 0, 0, 0, 0, 0, 0, 0, 0, 0,
  0, 0, 0, 0, 0, 0, 0, 0, 0, 0,
  0, 0, 0, 0, 0, 0, 0, 0, 0, 0,
  2, 95, 0, 8, 0, 0, 0, 0, 0, 0,
  0, 0, 0, 0, 0, 0, 0, 0, 0, 0,
  0, 0, 0, 0, 0, 0, 0, 0, 0, 0,
  0, 0, 0, 0, 0, 0, 0, 0, 0, 0,
  0, 0, 0, 0, 0, 0, 0, 0, 0, 0,
  0, 0, 0, 0, 0, 0, 0, 0, 0, 0,
  0, 0, 0, 0, 0, 0, 0, 0, 0, 0,
  0,
];
const cookGenB3 = [
  0, 0, 0, 0, 0, 0, 0, 0, 0, 0,
  0, 0, 0, 0, 0, 1, 0, 0, 0, 0,
  0, 0, 0, 0, 0, 0, 0, 0, 0, 0,
  39, 30, 42, 4, 0, 0, 0, 0, 0, 0,
  0, 0, 0, 0, 0, 0, 0, 0, 0, 0,
  0, 0, 0, 0, 0, 0, 0, 0, 0, 0,
  0, 0, 0, 0, 0, 0, 0, 0, 0, 0,
  0, 0, 0, 0, 0, 0, 0, 0, 0, 0,
  0, 0, 0, 0, 0, 0, 0, 0, 0, 0,
  0, 0, 0, 0, 0, 0, 0, 0, 0, 0,
  0,
];
const cookCdB3 = [
  0, 0, 0, 0, 0, 0, 0, 0, 0, 0,
  0, 0, 0, 0, 0, 0, 0, 0, 2, 0,
  0, 0, 0, 0, 0, 0, 0, 0, 0, 0,
  23, 23, 38, 4, 0, 0, 0, 0, 0, 0,
  0, 0, 1, 0, 0, 2, 0, 0, 0, 0,
  0, 0, 0, 0, 5, 3, 0, 0, 0, 0,
  0, 0, 0, 0, 0, 0, 0, 0, 0, 0,
  0, 0, 0, 0, 0, 0, 0, 0, 0, 0,
  0, 0, 0, 0, 0, 0, 0, 0, 0, 0,
  0, 0, 4, 0, 0, 0, 0, 0, 0, 0,
  0,
];

// ---------- layout ----------
const FONT = "'Liberation Sans', Arial, Helvetica, sans-serif";
const PW = 250;
const PH = 193;
const rowTops = [48, 240, 432, 624];
const xDomains: [number, number][] = [
  [196, 304],
  [396, 504],
  [846, 954],
];
const yDomains: [number, number][] = [
  [-0.8, 20.8],
  [-4.32, 4.32],
  [-0.0056, 0.1456],
  [-0.0056, 0.1456],
];
const yTicksByRow = [flowTicks, residTicks, infTicks, infTicks];
const COL = { lin: "#FFA500", non: "#A020F0", gen: "#22E622", cd: "#000000" };

const legendLev = [
  { label: "Linear", color: COL.lin },
  { label: "Nonlinear", color: COL.non },
  { label: "Generalised", color: COL.gen },
];
const legendCook = [...legendLev, { label: "Case\u2212deletion", color: COL.cd }];

const groups = [
  {
    lefts: [86, 353, 621],
    titleX: 487,
    obs: [obsA1, obsA2, obsA3],
    sim: [simA1, simA2, simA3],
    res: [resA1, resA2, resA3],
    lev: [
      [levLinA1, levNonA1, levGenA1],
      [levLinA2, levNonA2, levGenA2],
      [levLinA3, levNonA3, levGenA3],
    ],
    cook: [
      [cookLinA1, cookNonA1, cookGenA1, cookCdA1],
      [cookLinA2, cookNonA2, cookGenA2, cookCdA2],
      [cookLinA3, cookNonA3, cookGenA3, cookCdA3],
    ],
  },
  {
    lefts: [940, 1207, 1475],
    titleX: 1341,
    obs: [obsB1, obsB2, obsB3],
    sim: [simB1, simB2, simB3],
    res: [resB1, resB2, resB3],
    lev: [
      [levLinB1, levNonB1, levGenB1],
      [levLinB2, levNonB2, levGenB2],
      [levLinB3, levNonB3, levGenB3],
    ],
    cook: [
      [cookLinB1, cookNonB1, cookGenB1, cookCdB1],
      [cookLinB2, cookNonB2, cookGenB2, cookCdB2],
      [cookLinB3, cookNonB3, cookGenB3, cookCdB3],
    ],
  },
];

type Pt = { x: number; y: number };
const toPts = (vals: number[], start: number, scale = 1): Pt[] =>
  vals.map((v, i) => ({ x: start + i, y: v * scale }));

const fmtTick = (v: number, dec: boolean) => {
  const s = dec ? v.toFixed(2) : String(v);
  return s.replace("-", "\u2212");
};

const YTick = (props: any) => {
  const { x, y, payload, dec } = props;
  return (
    <g transform={`translate(${x},${y})`}>
      <text transform="scale(1.1,1)" textAnchor="end" dy="0.36em" fontSize={12.5} fill="#222" fontFamily={FONT}>
        {fmtTick(payload.value, dec)}
      </text>
    </g>
  );
};

const XTick = (props: any) => {
  const { x, y, payload } = props;
  return (
    <g transform={`translate(${x},${y})`}>
      <text transform="scale(1.12,1)" textAnchor="middle" dy="0.72em" fontSize={12.5} fill="#222" fontFamily={FONT}>
        {payload.value}
      </text>
    </g>
  );
};

type Series = { key: string; pts: Pt[]; color: string; r: number };

function LegendBox({ items }: { items: { label: string; color: string }[] }) {
  return (
    <div>
      {items.map((it) => (
        <div key={it.label} style={{ display: "flex", alignItems: "center", height: 16.8 }}>
          <span style={{ width: 6, height: 6, borderRadius: 3, background: it.color, marginRight: 10, flex: "none" }} />
          <span
            style={{
              fontFamily: FONT,
              fontSize: 12.5,
              color: "#222",
              display: "inline-block",
              whiteSpace: "nowrap",
              transform: "scaleX(1.12)",
              transformOrigin: "left center",
            }}
          >
            {it.label}
          </span>
        </div>
      ))}
    </div>
  );
}

function Panel(props: {
  left: number;
  top: number;
  row: number;
  col: number;
  dots: Series[];
  line?: Pt[];
  showY: boolean;
  showX: boolean;
  legend?: { label: string; color: string }[];
}) {
  const { left, top, row, col, dots, line, showY, showX, legend } = props;
  const yW = showY ? 50 : 0;
  const xH = showX ? 40 : 0;
  // side room so the edge tick labels of the bottom row are not clipped
  const mx = showX ? 16 : 0;
  const w = PW + yW + 2 * mx;
  const h = PH + xH;
  const plotLeft = mx + yW;
  return (
    <div style={{ position: "absolute", left: left - plotLeft, top, width: w, height: h }}>
      <ComposedChart width={w} height={h} data={line} margin={{ top: 0, right: mx, bottom: 0, left: mx }}>
        <XAxis
          type="number"
          dataKey="x"
          domain={xDomains[col]}
          allowDataOverflow
          ticks={xTickLabels[col]}
          interval={0}
          hide={!showX}
          height={xH}
          tickSize={7}
          tickMargin={4}
          axisLine={false}
          tickLine={{ stroke: "#333" }}
          tick={XTick}
        />
        <YAxis
          type="number"
          domain={yDomains[row]}
          allowDataOverflow
          ticks={yTicksByRow[row]}
          interval={0}
          hide={!showY}
          width={yW}
          tickSize={8}
          tickMargin={8}
          axisLine={false}
          tickLine={{ stroke: "#333" }}
          tick={(p: any) => <YTick {...p} dec={row >= 2} />}
        />
        <ReferenceLine y={0} stroke="#b8b8b8" strokeDasharray="1 3" />
        {dots.map((s) => (
          <Scatter
            key={s.key}
            data={s.pts}
            dataKey="y"
            fill={s.color}
            isAnimationActive={false}
            shape={(p: any) => <circle cx={p.cx} cy={p.cy} r={s.r} fill={s.color} />}
          />
        ))}
        {line && (
          <Line
            type="linear"
            dataKey="y"
            stroke="#ff1a1a"
            strokeWidth={1}
            dot={false}
            isAnimationActive={false}
          />
        )}
        {legend && (
          <Legend
            layout="vertical"
            align="center"
            verticalAlign="middle"
            wrapperStyle={{ left: plotLeft + 26, top: 16, width: "auto", height: "auto" }}
            content={() => <LegendBox items={legend} />}
          />
        )}
      </ComposedChart>
      <div
        style={{
          position: "absolute",
          left: plotLeft,
          top: 0,
          width: PW,
          height: PH,
          border: "1px solid #444",
          boxSizing: "border-box",
          pointerEvents: "none",
        }}
      />
    </div>
  );
}

const yTitles = ["Streamflow (mm/day)", "Std. residual", "Leverage", "Cook's distance"];

export default function App() {
  const panels: React.ReactNode[] = [];
  groups.forEach((g, gi) => {
    [0, 1, 2].forEach((c) => {
      const start = startDays[c];
      [0, 1, 2, 3].forEach((r) => {
        let dots: Series[] = [];
        let line: Pt[] | undefined;
        if (r === 0) {
          dots = [{ key: "obs", pts: toPts(g.obs[c], start), color: "#000", r: 2.8 }];
          line = toPts(g.sim[c], start);
        } else if (r === 1) {
          dots = [{ key: "res", pts: toPts(g.res[c], start), color: "#000", r: 2.8 }];
        } else if (r === 2) {
          const [lin, non, gen] = g.lev[c];
          dots = [
            { key: "lin", pts: toPts(lin, start, 0.001), color: COL.lin, r: 2.6 },
            { key: "non", pts: toPts(non, start, 0.001), color: COL.non, r: 2.6 },
            { key: "gen", pts: toPts(gen, start, 0.001), color: COL.gen, r: 2.6 },
          ];
        } else {
          const [lin, non, gen, cd] = g.cook[c];
          dots = [
            { key: "lin", pts: toPts(lin, start, 0.001), color: COL.lin, r: 2.6 },
            { key: "non", pts: toPts(non, start, 0.001), color: COL.non, r: 2.6 },
            { key: "gen", pts: toPts(gen, start, 0.001), color: COL.gen, r: 2.6 },
            { key: "cd", pts: toPts(cd, start, 0.001), color: COL.cd, r: 2.6 },
          ];
        }
        const legend = gi === 0 && c === 0 && r >= 2 ? (r === 2 ? legendLev : legendCook) : undefined;
        panels.push(
          <Panel
            key={`${gi}-${c}-${r}`}
            left={g.lefts[c]}
            top={rowTops[r]}
            row={r}
            col={c}
            dots={dots}
            line={line}
            showY={c === 0}
            showX={r === 3}
            legend={legend}
          />
        );
      });
    });
  });

  const stretch = (sx: number): React.CSSProperties => ({
    display: "inline-block",
    transform: `scaleX(${sx})`,
    whiteSpace: "nowrap",
  });

  return (
    <div
      style={{
        position: "absolute",
        left: 0,
        top: 0,
        width: 1724,
        height: 879,
        overflow: "hidden",
        background: "#fff",
        fontFamily: FONT,
        color: "#222",
      }}
    >
      {panels}
      {/* panel titles */}
      <div style={{ position: "absolute", left: groups[0].titleX, top: 18, transform: "translate(-50%,-50%)", fontSize: 19 }}>
        <span style={stretch(1.1)}>
          a) B<sub style={{ fontSize: "0.7em" }}>1</sub> Hydrological model synthetic observed
        </span>
      </div>
      <div style={{ position: "absolute", left: groups[1].titleX, top: 18, transform: "translate(-50%,-50%)", fontSize: 19 }}>
        <span style={stretch(1.1)}>
          b) B<sub style={{ fontSize: "0.7em" }}>2</sub> Hydrological model observed
        </span>
      </div>
      {/* x-axis titles */}
      {groups.map((g, i) => (
        <div
          key={`xt${i}`}
          style={{ position: "absolute", left: g.titleX, top: 857, transform: "translate(-50%,-50%)", fontSize: 18 }}
        >
          <span style={stretch(1.15)}>Daily time step</span>
        </div>
      ))}
      {/* y-axis titles */}
      {yTitles.map((t, r) => (
        <div
          key={t}
          style={{
            position: "absolute",
            left: 21,
            top: rowTops[r] + PH / 2,
            transform: "translate(-50%,-50%) rotate(-90deg)",
            fontSize: 14,
            whiteSpace: "nowrap",
          }}
        >
          {t}
        </div>
      ))}
    </div>
  );
}
